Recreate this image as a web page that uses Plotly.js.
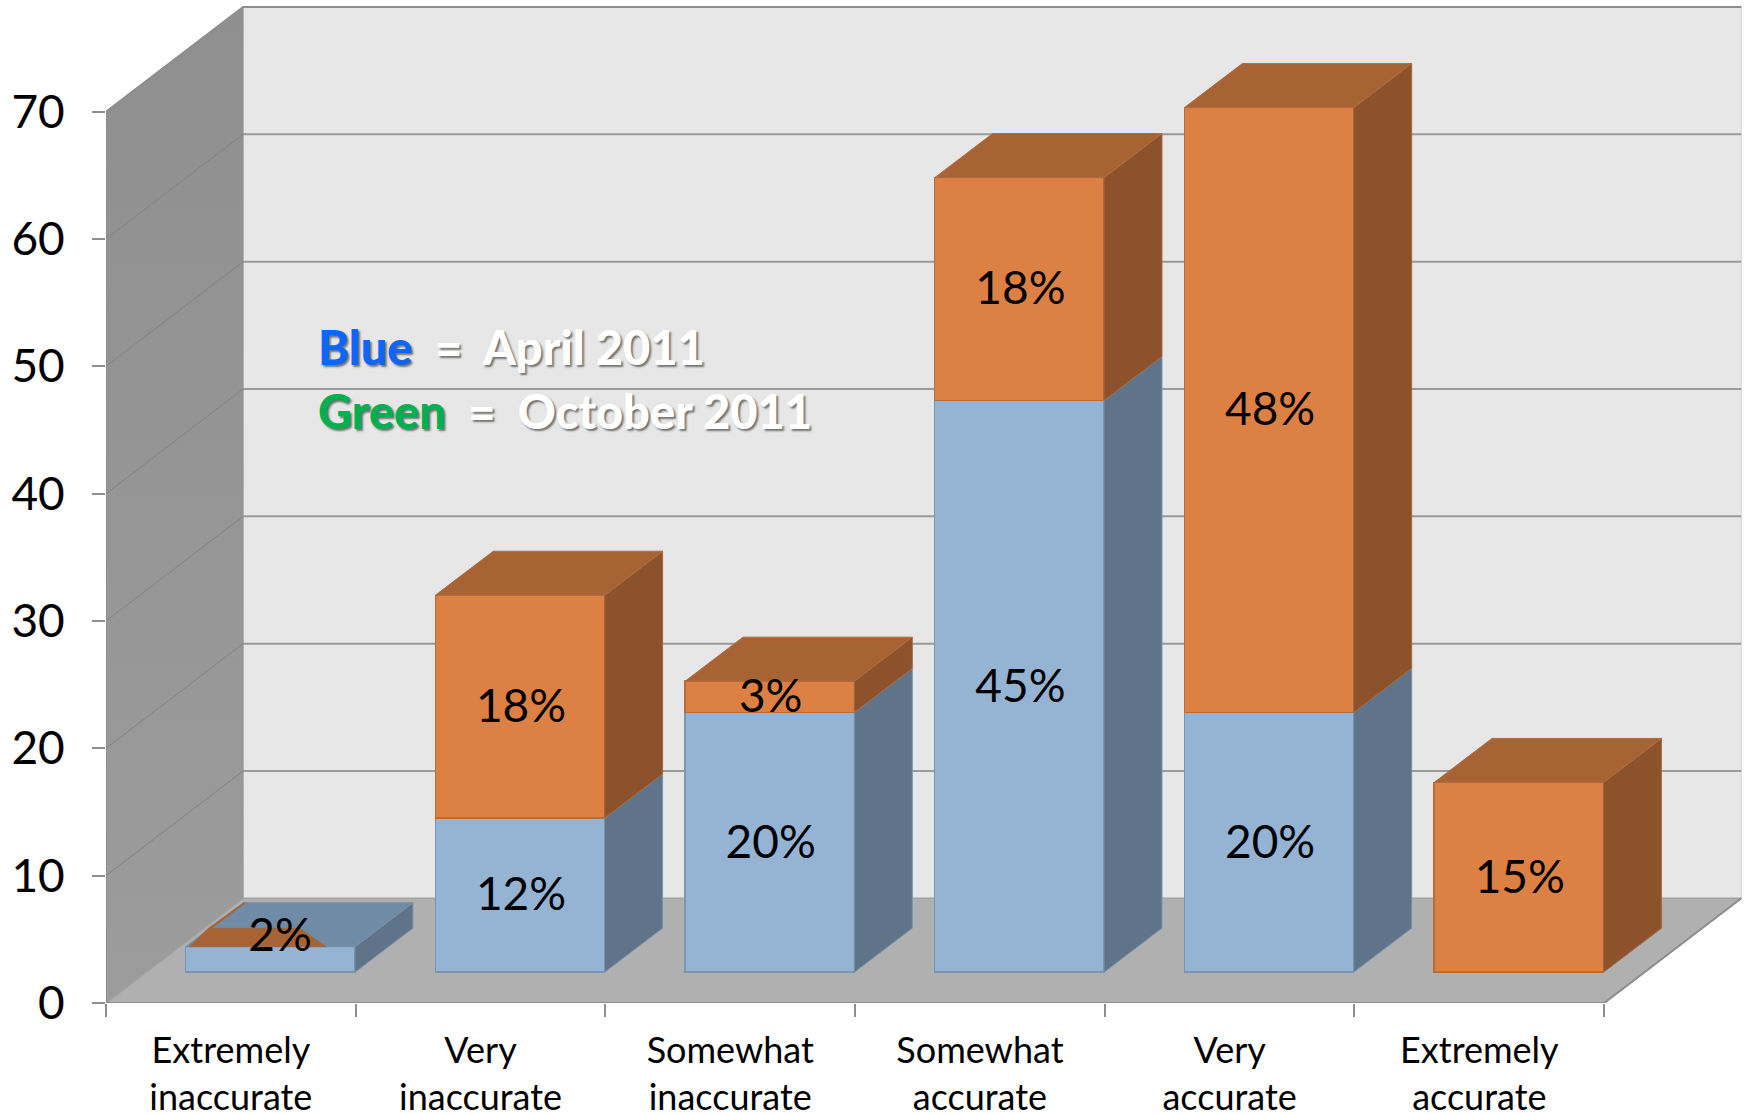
<!DOCTYPE html>
<html>
<head>
<meta charset="utf-8">
<script src="https://cdn.plot.ly/plotly-3.0.1.min.js"></script>
<style>html,body{margin:0;padding:0;background:#fff;overflow:hidden}#chart{width:1750px;height:1114px}</style>
</head>
<body>
<div id="chart"></div>
<script>
const categories = ["Extremely<br>inaccurate","Very<br>inaccurate","Somewhat<br>inaccurate","Somewhat<br>accurate","Very<br>accurate","Extremely<br>accurate"];
const aprilValues = [2, 12.1, 20.4, 44.9, 20.4, 0];
const octoberValues = [0, 17.5, 2.45, 17.5, 47.5, 14.9];
const aprilLabels = ["2%","12%","20%","45%","20%",""];
const octoberLabels = ["","18%","3%","18%","48%","15%"];
const yTicks = [0,10,20,30,40,50,60,70];

const FONT = 'Lato, "Open Sans", sans-serif';
const wallDX = 0.549, wallDY = 8.22, xMax = 6.584, yMax = 78.77;
const barW = 0.678, barDX = 0.232, barDY = 3.46, shiftX = 0.658, shiftY = 2.42, labelDY = -0.3;
const idx = categories.map((_, i) => i);
const n = categories.length;

function poly(pts){ return {x: pts.map(p=>p[0]), y: pts.map(p=>p[1])}; }
function multi(list){
  const x=[],y=[];
  list.forEach(pts=>{pts.forEach(p=>{x.push(p[0]);y.push(p[1]);});x.push(pts[0][0]);y.push(pts[0][1]);x.push(null);y.push(null);});
  return {x,y};
}
function face(d,fill,lineColor,lw,extra){
  return Object.assign({type:'scatter',mode:lw?'lines':'none',x:d.x,y:d.y,fill:'toself',fillcolor:fill,
    line:{color:lineColor||fill,width:lw||0},hoverinfo:'skip',showlegend:false,cliponaxis:false},extra||{});
}
function stroke(d,color,w,extra){
  return Object.assign({type:'scatter',mode:'lines',x:d.x,y:d.y,line:{color,width:w},hoverinfo:'skip',showlegend:false,cliponaxis:false},extra||{});
}
const over = {xaxis:'x2',yaxis:'y2'};
const traces = [];

// room: back wall, floor, side wall
const gridVals = yTicks.filter(v=>v>0);
traces.push(face(poly([[wallDX,wallDY],[wallDX,70+wallDY],[n+wallDX,70+wallDY],[n+wallDX,wallDY]]),'#e7e7e7','#d4d4d4',1));
gridVals.forEach(v=>traces.push(stroke(poly([[wallDX,v+wallDY],[n+wallDX,v+wallDY]]),'#9a9a9a',2)));
traces.push(face(poly([[0,0],[wallDX,wallDY],[n+wallDX,wallDY],[n,0]]),'#b0b0b0','#a4a4a4',1.5));
traces.push(Object.assign(face(poly([[0,0],[0,70],[wallDX,70+wallDY],[wallDX,wallDY]]),'#969696','#969696',1),
  {fillgradient:{type:'vertical',colorscale:[[0,'#9c9c9c'],[1,'#8f8f8f']]}}));
gridVals.filter(v=>v<70).forEach(v=>traces.push(stroke(poly([[0,v],[wallDX,v+wallDY]]),'#838383',1)));
traces.push(stroke(poly([[0,70],[wallDX,70+wallDY],[n+wallDX,70+wallDY]]),'#8e8e8e',2));
traces.push(stroke(poly([[0,70],[0,0],[n,0],[n+wallDX,wallDY]]),'#8e8e8e',2));

// front faces of the bars
traces.push(Object.assign({type:'bar',x:idx,y:aprilValues,width:barW,marker:{color:'#95b3d3',line:{color:'#7b96b3',width:1.5}},hoverinfo:'skip',showlegend:false},over));
traces.push(Object.assign({type:'bar',x:idx,y:octoberValues,width:barW,marker:{color:'#dd8044',line:{color:'#b86c3a',width:1.5}},hoverinfo:'skip',showlegend:false},over));

// side and top faces derived from the values
const sideFace=(i,y0,y1)=>{const r=i+barW/2;return [[r,y0],[r+barDX,y0+barDY],[r+barDX,y1+barDY],[r,y1]];};
const topFace=(i,y)=>{const l=i-barW/2,r=i+barW/2;return [[l,y],[l+barDX,y+barDY],[r+barDX,y+barDY],[r,y]];};
traces.push(face(multi(idx.map(i=>sideFace(i,0,aprilValues[i]))),'#5f7389','#7893ae',1,over));
traces.push(face(multi(idx.filter(i=>octoberValues[i]>0).map(i=>sideFace(i,aprilValues[i],aprilValues[i]+octoberValues[i]))),'#8c522c','#a9653a',1,over));
traces.push(face(multi(idx.filter(i=>octoberValues[i]>0).map(i=>topFace(i,aprilValues[i]+octoberValues[i]))),'#a86335','#b36c3e',1,over));
const noOct = idx.filter(i=>octoberValues[i]===0);
traces.push(face(multi(noOct.map(i=>topFace(i,aprilValues[i]))),'#6f8ba5','#7893ae',1,over));
// sliver of the (almost empty) October slab seen on the first bar's top
const topPt=(i,u,d)=>[i-barW/2+u*barW+d*barDX,aprilValues[i]+d*barDY];
traces.push(face(multi(noOct.map(i=>[topPt(i,.02,0),topPt(i,.83,0),topPt(i,.53,.42),topPt(i,.01,.42),topPt(i,.012,1),topPt(i,0,1),topPt(i,-.01,.42)])),'#a86335','#a86335',0.5,over));

// percentage labels
const lx=[],ly=[],lt=[];
idx.forEach(i=>{
  if(aprilLabels[i]){
    const first = octoberValues[i]===0;
    lx.push(i+(first?0.035:0)+.004); ly.push(aprilValues[i]/2+(first?1.9:0)+labelDY); lt.push(aprilLabels[i]);
  }
  if(octoberLabels[i]){lx.push(i+.004);ly.push(aprilValues[i]+octoberValues[i]/2+labelDY);lt.push(octoberLabels[i]);}
});
traces.push(Object.assign({type:'scatter',mode:'text',x:lx,y:ly,text:lt,textposition:'middle center',
  textfont:{family:FONT,size:46,color:'#000'},hoverinfo:'skip',showlegend:false,cliponaxis:false},over));

const shadow='2px 2px 2px rgba(0,0,0,0.5)';
const layout = {
  width:1750,height:1114,margin:{l:106,r:0,t:0,b:111.3,pad:0},
  paper_bgcolor:'#fff',plot_bgcolor:'rgba(0,0,0,0)',showlegend:false,barmode:'stack',
  font:{family:FONT,color:'#000'},
  xaxis:{range:[0,xMax],showgrid:false,zeroline:false,showline:false,
    tickmode:'array',tickvals:idx.map(i=>i+.5),ticktext:categories,ticks:'outside',ticklen:0,tickwidth:0,
    tickfont:{family:FONT,size:36,color:'#000'},ticklabelstandoff:16,
    minor:{tickmode:'array',tickvals:[0,1,2,3,4,5,6],ticks:'outside',ticklen:13,tickwidth:2,tickcolor:'#8e8e8e',showgrid:false}},
  yaxis:{range:[0,yMax],showgrid:false,zeroline:false,showline:false,
    tickmode:'array',tickvals:yTicks,ticks:'outside',ticklen:13,tickwidth:2,tickcolor:'#8e8e8e',
    tickfont:{family:FONT,size:46,color:'#000'},ticklabelstandoff:18},
  xaxis2:{overlaying:'x',range:[-shiftX,xMax-shiftX],visible:false,anchor:'y2'},
  yaxis2:{overlaying:'y',range:[-shiftY,yMax-shiftY],visible:false,anchor:'x2'},
  annotations:[
    {xref:'x',yref:'y',x:0.84,y:51.5,xanchor:'left',yanchor:'middle',showarrow:false,
     text:'<span style="color:#0f66ff">Blue</span>\u00a0 = \u00a0April 2011',
     font:{family:FONT,size:47,weight:900,color:'#fff',shadow:shadow}},
    {xref:'x',yref:'y',x:0.84,y:46.5,xanchor:'left',yanchor:'middle',showarrow:false,
     text:'<span style="color:#00b050">Green</span>\u00a0 = \u00a0October 2011',
     font:{family:FONT,size:47,weight:900,color:'#fff',shadow:shadow}}
  ]
};
Plotly.newPlot('chart',traces,layout,{displayModeBar:false,staticPlot:true});
</script>
</body>
</html>
